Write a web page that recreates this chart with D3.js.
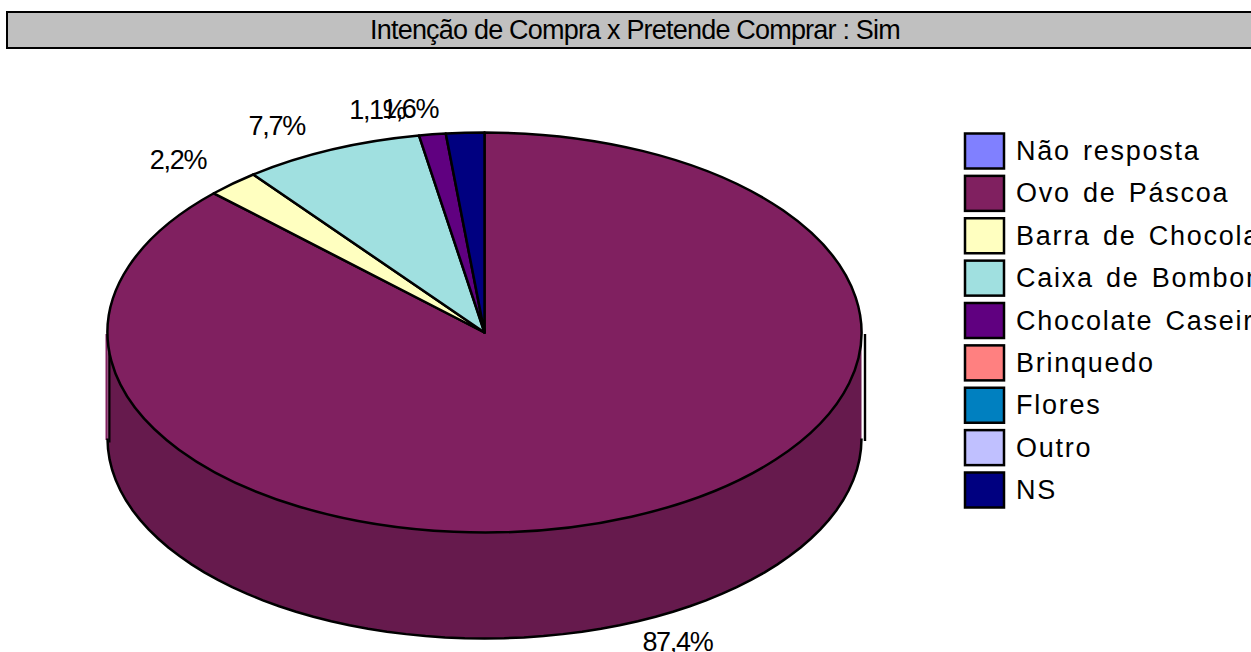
<!DOCTYPE html>
<html><head><meta charset="utf-8">
<script src="https://cdn.jsdelivr.net/npm/d3@7/dist/d3.min.js"></script>
<style>html,body{margin:0;padding:0;background:#fff;overflow:hidden}svg{display:block}text{font-family:"Liberation Sans",Arial,sans-serif;fill:#000}</style>
</head><body><svg id="c" width="1251" height="652"></svg>
<script>
const titleText = "Intenção de Compra x Pretende Comprar : Sim";
const categories = ["Não resposta","Ovo de Páscoa","Barra de Chocolate","Caixa de Bombons","Chocolate Caseiro","Brinquedo","Flores","Outro","NS"];
const values = [0,87.36,2.24,7.74,1.14,0,0,0,1.64];
const colors = ["#8080ff","#802060","#ffffc0","#a0e0e0","#600080","#ff8080","#0080c0","#c0c0ff","#000080"];
const wallColors = ["#6666cc","#661a4d","#cccc99","#80b3b3","#4d0066","#cc6666","#006699","#9999cc","#000066"];

const svg = d3.select("#c");
const cx=484.5, cy=332.5, rx=377, ry=200, depth=106;
const fmt = v => v.toFixed(1).replace(".", ",") + "%";

// title bar
svg.append("rect").attr("x",7).attr("y",12).attr("width",1260).attr("height",36)
  .attr("fill","#c0c0c0").attr("stroke","#000").attr("stroke-width",2);
svg.append("text").attr("x",635).attr("y",39).attr("text-anchor","middle")
  .attr("font-size",27).attr("letter-spacing",-0.8).text(titleText);

const pie = d3.pie().sort(null).value((d,i)=>values[i]);
const arcs = pie(categories);
const px = t => cx + rx*Math.sin(t);
const py = t => cy - ry*Math.cos(t);

// side wall: front half of each slice
const HALF = Math.PI/2, FULL = 3*Math.PI/2;
const wall = d3.area().x(px).y0(py).y1(t=>py(t)+depth);
const g = svg.append("g");
g.append("line").attr("x1",106.5).attr("x2",106.5).attr("y1",334).attr("y2",440).attr("stroke","#802060").attr("stroke-width",2);
arcs.forEach((a,i)=>{
  const s=Math.max(a.startAngle,HALF), e=Math.min(a.endAngle,FULL);
  if(e<=s) return;
  const ts=d3.range(61).map(k=>s+(e-s)*k/60);
  g.append("path").attr("d",wall(ts)).attr("fill",wallColors[i]).attr("stroke","none");
  const outline=d3.line().x(px).y(t=>py(t)+depth);
  g.append("path").attr("d",outline(ts)).attr("fill","none").attr("stroke","#000").attr("stroke-width",2.5);
});
g.append("line").attr("x1",cx-rx+2).attr("x2",cx-rx+2).attr("y1",cy+20).attr("y2",cy+depth+4).attr("stroke","#000").attr("stroke-width",2);
g.append("line").attr("x1",865).attr("x2",865).attr("y1",334).attr("y2",441).attr("stroke","#000").attr("stroke-width",2.4);

// top face
const arc = d3.arc().innerRadius(0).outerRadius(rx);
svg.append("g").attr("transform",`translate(${cx},${cy}) scale(1,${ry/rx})`)
  .selectAll("path").data(arcs.filter(a=>a.value>0)).join("path")
  .attr("d",arc).attr("fill",d=>colors[d.index])
  .attr("stroke","#000").attr("stroke-width",2.5).attr("stroke-linejoin","round")
  .attr("vector-effect","non-scaling-stroke");

// data labels
arcs.filter(a=>a.value>0).forEach(a=>{
  const t=(a.startAngle+a.endAngle)/2;
  const front=Math.cos(t)<0;
  svg.append("text")
    .attr("x",px(t)+(front?46:-55))
    .attr("y",py(t)+(front?depth+20:-23)+8)
    .attr("text-anchor","middle").attr("font-size",27).attr("letter-spacing",-1.3)
    .text(fmt(a.value));
});

// legend
const ly = d3.scalePoint().domain(categories).range([151,490]);
const leg = svg.append("g").selectAll("g").data(categories).join("g")
  .attr("transform",d=>`translate(0,${ly(d)})`);
leg.append("rect").attr("x",965).attr("y",-17.5).attr("width",39).attr("height",35)
  .attr("fill",(d,i)=>colors[i]).attr("stroke","#000").attr("stroke-width",2.5);
leg.append("text").attr("x",1016).attr("y",9).attr("font-size",27)
  .attr("letter-spacing",1.75).attr("word-spacing",3).text(d=>d);
</script></body></html>
